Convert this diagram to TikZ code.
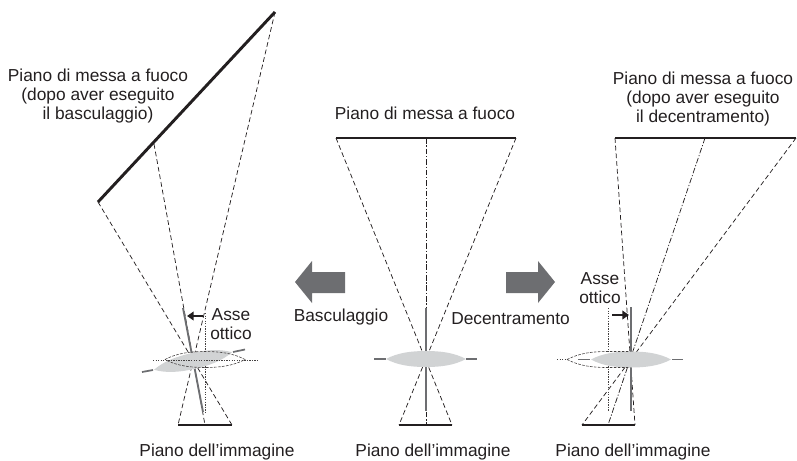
\documentclass[tikz,border=0pt]{standalone}
\usepackage{fontspec}
\setmainfont{Liberation Sans}
\usetikzlibrary{arrows.meta}
\definecolor{ink}{HTML}{231F20}
\definecolor{midgray}{HTML}{6D6E71}
\definecolor{lensgray}{HTML}{D1D3D4}
\tikzset{
  lbl/.style={text=ink,font=\fontsize{13}{13.9}\selectfont,align=center,inner sep=0pt},
  plane/.style={draw=ink,line width=2.2pt},
  ray/.style={draw=ink,line width=0.55pt,dash pattern=on 3.6pt off 2.2pt},
  chief/.style={draw=ink,line width=0.55pt,dash pattern=on 4.2pt off 1.4pt on 0.9pt off 1.4pt},
  axisline/.style={draw=ink!85,line width=0.55pt,dash pattern=on 1pt off 0.9pt},
  outline/.style={draw=ink!85,line width=0.45pt,dash pattern=on 2pt off 1pt},
  film/.style={draw=midgray,line width=1.4pt},
  stub/.style={draw=midgray,line width=1.3pt},
  lensbody/.style={fill=lensgray,draw=none},
  shiftarrow/.style={draw=ink,line width=1.5pt,-{Triangle[length=5pt,width=6.5pt]}},
  bigarrow/.style={fill=midgray,draw=none}
}
\newcommand{\lensshape}{(-40,0) .. controls (-28,-6.5) and (-14,-8) .. (0,-8) .. controls (14,-8) and (28,-6.5) .. (40,0) .. controls (28,6.5) and (14,8) .. (0,8) .. controls (-14,8) and (-28,6.5) .. (-40,0) -- cycle}
\begin{document}
\begin{tikzpicture}[x=0.75pt,y=-0.75pt]
\useasboundingbox (0,0) rectangle (797,461);
% ---------- coordinates
\coordinate (lA) at (98,202); \coordinate (lB) at (275,12); \coordinate (lM) at (154,144);
\coordinate (lC) at (178,425); \coordinate (lD) at (232,425); \coordinate (lE) at (205,425);
\coordinate (lF1) at (183,308); \coordinate (lF2) at (203,412);
\coordinate (lX1) at (205,313); \coordinate (lX2) at (205,412);
\coordinate (lY1) at (153,360); \coordinate (lY2) at (257,360);
\coordinate (lS1) at (142,372); \coordinate (lS2) at (153,370);
\coordinate (lS3) at (233,352); \coordinate (lS4) at (245,349.5);
\coordinate (lAs) at (203,316); \coordinate (lAe) at (187,316);
\coordinate (cA) at (336,138); \coordinate (cB) at (516,138); \coordinate (cM) at (426,138);
\coordinate (cC) at (399,425); \coordinate (cD) at (452,425); \coordinate (cE) at (426,425);
\coordinate (cF1) at (426,308); \coordinate (cF2) at (426,411);
\coordinate (cS1) at (374,359); \coordinate (cS2) at (386,359);
\coordinate (cS3) at (466,359); \coordinate (cS4) at (477,359);
\coordinate (rA) at (615,138); \coordinate (rB) at (796,138); \coordinate (rM) at (705,138);
\coordinate (rC) at (582,425); \coordinate (rD) at (635,425); \coordinate (rE) at (608,425);
\coordinate (rF1) at (631,307); \coordinate (rF2) at (631,411);
\coordinate (rX1) at (608,308); \coordinate (rX2) at (608,411);
\coordinate (rY1) at (557,359.5); \coordinate (rY2) at (568,359.5);
\coordinate (rS1) at (578,359.5); \coordinate (rS2) at (590,359.5);
\coordinate (rS3) at (672,359.5); \coordinate (rS4) at (683,359.5);
\coordinate (rAs) at (612,315); \coordinate (rAe) at (629,315);
% ---------- left: tilt
\draw[ray] (lA) -- (lD); \draw[ray] (lB) -- (lC); \draw[ray] (lM) -- (lE);
\draw[axisline] (lX1) -- (lX2);
\draw[film] (lF1) -- (lF2);
\draw[stub] (lS1) -- (lS2); \draw[stub] (lS3) -- (lS4);
\path[lensbody,shift={(193,361)},rotate=12.7] \lensshape;
\draw[axisline] (lY1) -- (lY2);
\draw[outline,shift={(205,359.5)}] \lensshape;
\draw[plane] (lA) -- (lB);
\draw[plane] (lC) -- (lD);
\draw[shiftarrow] (lAs) -- (lAe);
% ---------- centre
\draw[ray] (cA) -- (cD); \draw[ray] (cB) -- (cC); \draw[chief] (cM) -- (cE);
\draw[film] (cF1) -- (cF2);
\draw[stub] (cS1) -- (cS2); \draw[stub] (cS3) -- (cS4);
\path[lensbody,shift={(426,359)}] \lensshape;
\draw[plane] (cA) -- (cB);
\draw[plane] (cC) -- (cD);
% ---------- right: shift
\draw[ray] (rA) -- (rD); \draw[ray] (rB) -- (rC); \draw[chief] (rM) -- (rE);
\draw[axisline] (rX1) -- (rX2);
\draw[film] (rF1) -- (rF2);
\draw[stub] (rS1) -- (rS2); \draw[stub] (rS3) -- (rS4);
\path[lensbody,shift={(631,359.5)}] \lensshape;
\draw[axisline] (rY1) -- (rY2);
\draw[outline] (567,359.5) .. controls (580,353) and (592,351.5) .. (608,351.5) -- (630,351.5);
\draw[outline] (567,359.5) .. controls (580,366) and (592,367.5) .. (608,367.5) -- (630,367.5);
\draw[plane] (rA) -- (rB);
\draw[plane] (rC) -- (rD);
\draw[shiftarrow] (rAs) -- (rAe);
% ---------- block arrows
\path[bigarrow] (295,282) -- (312,261) -- (312,272) -- (345,272) -- (345,293) -- (312,293) -- (312,303) -- cycle;
\path[bigarrow] (555,282) -- (538,261) -- (538,272) -- (506,272) -- (506,293) -- (538,293) -- (538,303) -- cycle;
% ---------- labels
\node[lbl] (tL) at (98,96) {Piano di messa a fuoco\\(dopo aver eseguito\\il basculaggio)};
\node[lbl] (tC) at (425,113) {Piano di messa a fuoco};
\node[lbl] (tR) at (703,99) {Piano di messa a fuoco\\(dopo aver eseguito\\il decentramento)};
\node[lbl] (tB) at (341,317) {Basculaggio};
\node[lbl,anchor=west] (tD) at (451,319) {Decentramento};
\node[lbl] (tAL) at (231,324) {Asse\\ottico};
\node[lbl] (tAR) at (600,288) {Asse\\ottico};
\node[lbl] (cL) at (217,452) {Piano dell'immagine};
\node[lbl] (cC2) at (433,452) {Piano dell'immagine};
\node[lbl] (cR) at (633,452) {Piano dell'immagine};
\end{tikzpicture}
\end{document}
